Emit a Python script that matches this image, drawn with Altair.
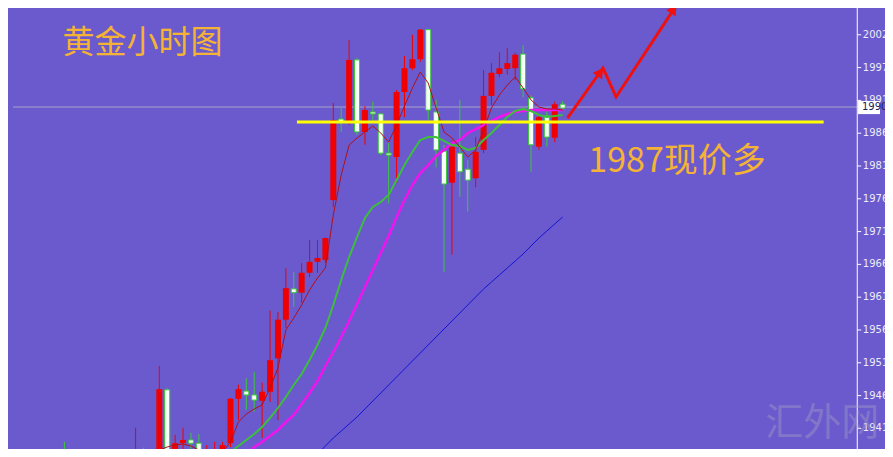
import altair as alt
import pandas as pd

BG = "#6A5ACD"
RED = "#F00000"
GREEN = "#3CC83C"
ORANGE = "#F5B335"

# ---- candle data (hourly gold) ----
idx = list(range(64))
opens = [1935.8, 1934.9, 1935.4, 1934.4, 1932.8, 1931.4, 1932.0, 1933.2, 1932.5, 1933.8,
         1935.9, 1935.2, 1934.5, 1946.9, 1935.8, 1938.6, 1939.1, 1938.6, 1935.0, 1935.5,
         1935.6, 1938.6, 1945.5, 1946.7, 1946.1, 1945.2, 1946.6, 1951.8, 1957.8, 1962.6,
         1962.0, 1965.1, 1966.8, 1967.1, 1976.4, 1989.0, 1988.5, 1998.2, 1987.0, 1990.1,
         1989.8, 1983.7, 1983.1, 1993.2, 1996.9, 1998.3, 2002.9, 1990.1, 1984.0, 1979.1,
         1983.7, 1981.2, 1979.8, 1984.2, 1992.6, 1996.0, 1996.8, 1996.9, 1999.1, 1992.3,
         1984.7, 1989.5, 1986.1, 1991.3]
highs = [1938.8, 1936.0, 1936.8, 1935.5, 1933.9, 1932.6, 1934.0, 1934.8, 1935.4, 1941.0,
         1937.9, 1936.8, 1950.6, 1947.2, 1939.9, 1941.0, 1940.2, 1940.0, 1938.3, 1938.8,
         1938.8, 1945.6, 1947.7, 1948.7, 1949.7, 1948.0, 1959.2, 1959.0, 1965.8, 1965.2,
         1966.6, 1970.2, 1970.2, 1970.6, 1991.5, 1990.7, 2001.3, 1998.5, 1991.0, 1991.7,
         1989.9, 1985.3, 1993.5, 1998.8, 2002.1, 2003.0, 2003.0, 1992.0, 1985.0, 1985.7,
         1992.0, 1982.6, 1986.2, 1996.6, 1997.7, 1999.4, 2000.0, 1999.3, 2000.5, 1992.7,
         1989.6, 1990.7, 1991.7, 1991.8]
lows = [1934.0, 1933.5, 1933.6, 1932.0, 1930.5, 1929.6, 1931.0, 1931.9, 1932.0, 1933.0,
        1933.9, 1933.2, 1934.0, 1935.0, 1935.3, 1937.5, 1937.7, 1935.2, 1934.5, 1934.8,
        1935.0, 1938.0, 1942.2, 1943.8, 1943.5, 1939.4, 1945.0, 1942.2, 1956.5, 1959.8,
        1960.4, 1964.4, 1965.1, 1966.6, 1975.3, 1987.0, 1988.1, 1986.5, 1985.0, 1988.5,
        1983.4, 1975.9, 1979.1, 1989.3, 1996.6, 1997.9, 1988.9, 1981.5, 1965.2, 1967.9,
        1976.9, 1974.6, 1978.4, 1983.7, 1991.2, 1995.5, 1995.9, 1995.1, 1992.4, 1980.8,
        1984.2, 1984.7, 1985.4, 1990.4]
closes = [1934.9, 1934.2, 1934.4, 1932.8, 1931.4, 1932.0, 1933.2, 1932.5, 1934.6, 1935.9,
          1934.8, 1934.0, 1947.0, 1935.6, 1938.6, 1939.1, 1938.6, 1935.8, 1936.2, 1936.3,
          1938.3, 1945.5, 1947.0, 1946.1, 1945.3, 1946.6, 1951.5, 1957.8, 1962.7, 1962.0,
          1965.1, 1966.8, 1967.4, 1970.5, 1988.85, 1988.5, 1998.2, 1987.0, 1990.4, 1989.8,
          1983.7, 1983.4, 1993.2, 1996.9, 1998.3, 2002.9, 1990.4, 1984.2, 1978.9, 1984.7,
          1980.8, 1979.5, 1983.9, 1992.6, 1996.2, 1996.9, 1997.7, 1999.0, 1993.7, 1985.0,
          1989.3, 1986.2, 1991.3, 1990.7]

# ---- moving averages ----
ma_fast_start = 12
ma_fast = [1937.54, 1938.01, 1938.32, 1938.47, 1938.16, 1937.54, 1936.76, 1936.30, 1937.23, 1938.78,
           1941.89, 1943.14, 1943.92, 1944.54, 1947.18, 1950.29, 1956.20, 1958.06, 1960.09, 1962.42,
           1964.28, 1965.84, 1974.08, 1980.30, 1984.96, 1986.05, 1986.99, 1987.92, 1986.83, 1985.43,
           1988.07, 1991.03, 1993.83, 1996.31, 1994.60, 1990.72, 1986.99, 1986.05, 1984.65, 1983.10,
           1984.19, 1987.30, 1990.72, 1992.74, 1994.29, 1995.54, 1993.83, 1991.96, 1990.87, 1990.56,
           1990.56, 1990.41]
ma_mid_start = 20
ma_mid = [1936.14, 1937.23, 1938.16, 1939.09, 1940.03, 1941.12, 1942.52, 1944.07, 1945.78, 1947.65,
          1949.36, 1951.53, 1953.87, 1956.51, 1960.09, 1963.97, 1967.55, 1970.66, 1973.61, 1975.32,
          1976.10, 1977.19, 1979.52, 1981.85, 1983.88, 1985.74, 1986.21, 1986.21, 1985.59, 1984.96,
          1984.81, 1984.19, 1984.50, 1985.74, 1986.83, 1988.07, 1989.32, 1990.25, 1990.56, 1990.25,
          1989.63, 1989.32, 1989.47, 1989.63]
ma_slow_start = 22
ma_slow = [1935.98, 1936.92, 1938.01, 1938.78, 1939.72, 1940.65, 1941.89, 1942.98, 1944.69, 1946.40,
           1948.27, 1950.60, 1952.78, 1955.11, 1957.60, 1960.24, 1962.88, 1965.53, 1968.17, 1970.81,
           1973.77, 1976.41, 1978.74, 1980.61, 1981.85, 1983.25, 1984.19, 1985.27, 1985.74, 1986.83,
           1987.45, 1988.07, 1988.70, 1989.32, 1989.78, 1990.10, 1990.25, 1990.41, 1990.41, 1990.41,
           1990.41, 1990.41]
ma_long_start = 31
ma_long = [1935.83, 1936.92, 1938.16, 1939.41, 1940.49, 1941.58, 1942.67, 1943.92, 1945.16, 1946.40,
           1947.65, 1948.89, 1950.13, 1951.38, 1952.62, 1953.87, 1955.11, 1956.35, 1957.60, 1958.84,
           1960.09, 1961.33, 1962.57, 1963.66, 1964.75, 1965.84, 1966.93, 1968.02, 1969.26, 1970.50,
           1971.59, 1972.68, 1973.77]

# ---- price axis ----
tick_values = [2007.2, 2002.1, 1997.0, 1991.9, 1986.8, 1981.7, 1976.6,
               1971.5, 1966.4, 1961.3, 1956.2, 1951.1, 1946.0, 1940.9]
tick_labels = ["2007.2", "2002.1", "1997.0", "1991.9", "1986.4", "1981.2", "1976.7",
               "1971.0", "1966.3", "1961.4", "1956.3", "1951.4", "1946.3", "1941.2"]
current_price = 1990.87
current_label = "1990.0"

# ---- annotations ----
support_level = 1988.54
support_from, support_to = 29.4, 96.0
arrow_i = [63.6, 68.1, 69.75, 77.4]
arrow_p = [1989.16, 1996.94, 1992.43, 2006.73]
head_i = [67.76, 77.03]
head_p = [1996.30, 2006.08]
head_angle = [36, 34]
title_text = "黄金小时图"
note_text = "1987现价多"
watermark = "汇外网"

W, H = 877, 441
X_DOM = [-6.5, (W - 52) / 8]
Y_DOM = [2007.51 - 0.15549 * (H + 8), 2007.51 - 0.15549 * 8]
AXIS_X = 100.25

xs = alt.Scale(domain=X_DOM, nice=False, zero=False)
ys = alt.Scale(domain=Y_DOM, nice=False, zero=False)


def X(f):
    return alt.X(f, type="quantitative", scale=xs, axis=None)


def Y(f):
    return alt.Y(f, type="quantitative", scale=ys, axis=None)


candles = pd.DataFrame({"i": idx, "open": opens, "high": highs, "low": lows, "close": closes})
candles["dir"] = ["up" if c >= o else "down" for o, c in zip(opens, closes)]
base = alt.Chart(candles)

wicks = base.mark_rule(strokeWidth=1, clip=True).encode(
    x=X("i"), y=Y("low"), y2="high",
    color=alt.Color("dir:N", scale=alt.Scale(domain=["up", "down"], range=[RED, GREEN]), legend=None),
)
bodies_up = base.transform_filter("datum.dir == 'up'").mark_bar(
    size=6, color=RED, clip=True).encode(x=X("i"), y=Y("open"), y2="close")
bodies_down = base.transform_filter("datum.dir == 'down'").mark_bar(
    size=5, fill="#F6FFF6", stroke=GREEN, strokeWidth=1, clip=True).encode(
    x=X("i"), y=Y("open"), y2="close")


def ma_layer(start, vals, color, width):
    df = pd.DataFrame({"i": list(range(start, start + len(vals))), "v": vals})
    return alt.Chart(df).mark_line(color=color, strokeWidth=width, clip=True).encode(
        x=X("i"), y=Y("v"))


ma_lines = [
    ma_layer(ma_long_start, ma_long, "#1414D2", 1),
    ma_layer(ma_slow_start, ma_slow, "#F014F0", 2.5),
    ma_layer(ma_mid_start, ma_mid, "#3CC03C", 2),
    ma_layer(ma_fast_start, ma_fast, "#B0101E", 1),
]

price_line = alt.Chart(pd.DataFrame({"a": [X_DOM[0]], "b": [AXIS_X], "p": [current_price]})).mark_rule(
    color="#A8A4C8", strokeWidth=1).encode(x=X("a"), x2="b", y=Y("p"))

support = alt.Chart(pd.DataFrame({"a": [support_from], "b": [support_to], "p": [support_level]})).mark_rule(
    color="#FFFF00", strokeWidth=3).encode(x=X("a"), x2="b", y=Y("p"))

axis_line = alt.Chart(pd.DataFrame({"a": [AXIS_X], "p1": [Y_DOM[0]], "p2": [Y_DOM[1]]})).mark_rule(
    color="#FFFFFF", strokeWidth=1).encode(x=X("a"), y=Y("p1"), y2="p2")

ticks_df = pd.DataFrame({"a": [AXIS_X] * len(tick_values), "b": [AXIS_X + 0.5] * len(tick_values),
                         "t": [AXIS_X + 0.7] * len(tick_values), "p": tick_values, "lab": tick_labels})
tick_marks = alt.Chart(ticks_df).mark_rule(color="#FFFFFF", strokeWidth=1).encode(
    x=X("a"), x2="b", y=Y("p"))
tick_text = alt.Chart(ticks_df).mark_text(
    align="left", baseline="middle", font="DejaVu Sans", fontSize=10, color="#ECECF4").encode(
    x=X("t"), y=Y("p"), text="lab:N")

box_df = pd.DataFrame({"a": [AXIS_X + 0.1], "b": [X_DOM[1]], "p1": [current_price - 1.1],
                       "p2": [current_price + 0.95], "t": [AXIS_X + 0.6], "p": [current_price],
                       "lab": [current_label]})
price_box = alt.Chart(box_df).mark_rect(color="#FFFFFF").encode(x=X("a"), x2="b", y=Y("p1"), y2="p2")
price_box_text = alt.Chart(box_df).mark_text(
    align="left", baseline="middle", font="DejaVu Sans", fontSize=10, color="#202060").encode(
    x=X("t"), y=Y("p"), text="lab:N")

arrow_df = pd.DataFrame({"i": arrow_i, "p": arrow_p, "o": list(range(len(arrow_i)))})
arrow = alt.Chart(arrow_df).mark_line(color="#F01010", strokeWidth=3, strokeJoin="miter").encode(
    x=X("i"), y=Y("p"), order="o:Q")
heads_df = pd.DataFrame({"i": head_i, "p": head_p, "ang": head_angle})
heads = alt.Chart(heads_df).mark_point(shape="triangle-up", filled=True, color="#F01010",
                                       size=130, opacity=1).encode(
    x=X("i"), y=Y("p"), angle=alt.Angle("ang:Q", scale=None))

texts_df = pd.DataFrame({
    "i": [-0.25, 66.25],
    "p": [2000.8, 1982.3],
    "txt": [title_text, note_text],
    "size": [32, 34],
})
texts = alt.Chart(texts_df).mark_text(
    align="left", baseline="middle", font="Noto Sans CJK SC", color=ORANGE).encode(
    x=X("i"), y=Y("p"), text="txt:N", size=alt.Size("size:Q", scale=None))

wm = alt.Chart(pd.DataFrame({"i": [88.6], "p": [1941.6], "txt": [watermark]})).mark_text(
    align="left", baseline="middle", font="Noto Sans CJK SC", fontSize=38,
    color="#A6A0C8", opacity=0.4).encode(x=X("i"), y=Y("p"), text="txt:N")

chart = alt.layer(
    price_line, wicks, bodies_up, bodies_down, *ma_lines, support, arrow, heads,
    axis_line, tick_marks, tick_text, price_box, price_box_text, texts, wm,
).properties(
    width=W, height=H, padding=0,
    autosize=alt.AutoSizeParams(type="none"),
    background=BG,
).configure_view(stroke=None)

chart.save("out.html", embed_options={"renderer": "svg", "actions": False})
